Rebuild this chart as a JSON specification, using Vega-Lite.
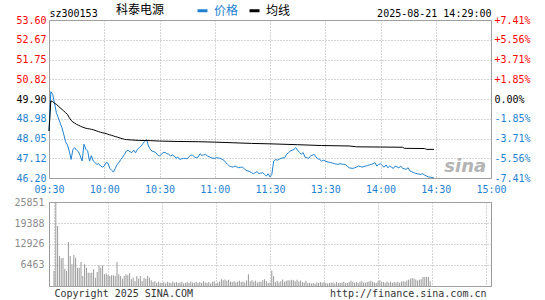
{
  "$schema": "https://vega.github.io/schema/vega-lite/v6.json",
  "background": "white",
  "padding": {"left": 13, "top": 4, "right": 0, "bottom": 0},
  "spacing": 24,
  "bounds": "flush",
  "config": {
    "view": {"stroke": "#999999", "strokeWidth": 1},
    "axis": {"labelFont": "DejaVu Sans Mono", "labelFontSize": 10, "domain": false, "ticks": false, "grid": false, "title": null, "labelOverlap": false, "labelBound": false, "gridColor": "#aaaaaa", "gridDash": [1, 2], "gridWidth": 1}
  },
  "datasets": {
    "price": [
      {"m":0,"p":48.40,"s":"价格"},{"m":1,"p":50.24,"s":"价格"},{"m":2,"p":50.12,"s":"价格"},{"m":3,"p":49.70,"s":"价格"},{"m":4,"p":49.26,"s":"价格"},{"m":5,"p":49.03,"s":"价格"},{"m":6,"p":48.79,"s":"价格"},{"m":7,"p":48.56,"s":"价格"},{"m":8,"p":48.25,"s":"价格"},{"m":9,"p":47.90,"s":"价格"},
      {"m":10,"p":47.75,"s":"价格"},{"m":11,"p":47.46,"s":"价格"},{"m":12,"p":47.07,"s":"价格"},{"m":13,"p":47.54,"s":"价格"},{"m":14,"p":47.62,"s":"价格"},{"m":15,"p":47.50,"s":"价格"},{"m":16,"p":47.43,"s":"价格"},{"m":17,"p":47.23,"s":"价格"},{"m":18,"p":47.00,"s":"价格"},{"m":19,"p":47.78,"s":"价格"},
      {"m":20,"p":47.55,"s":"价格"},{"m":21,"p":47.46,"s":"价格"},{"m":22,"p":46.99,"s":"价格"},{"m":23,"p":47.25,"s":"价格"},{"m":24,"p":47.00,"s":"价格"},{"m":25,"p":46.92,"s":"价格"},{"m":26,"p":46.84,"s":"价格"},{"m":27,"p":46.87,"s":"价格"},{"m":28,"p":46.76,"s":"价格"},{"m":29,"p":46.71,"s":"价格"},
      {"m":30,"p":46.76,"s":"价格"},{"m":31,"p":46.92,"s":"价格"},{"m":32,"p":46.90,"s":"价格"},{"m":33,"p":46.65,"s":"价格"},{"m":34,"p":46.56,"s":"价格"},{"m":35,"p":46.48,"s":"价格"},{"m":36,"p":46.65,"s":"价格"},{"m":37,"p":46.84,"s":"价格"},{"m":38,"p":46.92,"s":"价格"},{"m":39,"p":47.07,"s":"价格"},
      {"m":40,"p":47.18,"s":"价格"},{"m":41,"p":47.31,"s":"价格"},{"m":42,"p":47.46,"s":"价格"},{"m":43,"p":47.50,"s":"价格"},{"m":44,"p":47.43,"s":"价格"},{"m":45,"p":47.39,"s":"价格"},{"m":46,"p":47.50,"s":"价格"},{"m":47,"p":47.38,"s":"价格"},{"m":48,"p":47.54,"s":"价格"},{"m":49,"p":47.62,"s":"价格"},
      {"m":50,"p":47.70,"s":"价格"},{"m":51,"p":47.81,"s":"价格"},{"m":52,"p":47.92,"s":"价格"},{"m":53,"p":48.01,"s":"价格"},{"m":54,"p":47.70,"s":"价格"},{"m":55,"p":47.54,"s":"价格"},{"m":56,"p":47.46,"s":"价格"},{"m":57,"p":47.43,"s":"价格"},{"m":58,"p":47.39,"s":"价格"},{"m":59,"p":47.28,"s":"价格"},
      {"m":60,"p":47.23,"s":"价格"},{"m":61,"p":47.31,"s":"价格"},{"m":62,"p":47.39,"s":"价格"},{"m":63,"p":47.40,"s":"价格"},{"m":64,"p":47.34,"s":"价格"},{"m":65,"p":47.31,"s":"价格"},{"m":66,"p":47.23,"s":"价格"},{"m":67,"p":47.28,"s":"价格"},{"m":68,"p":47.23,"s":"价格"},{"m":69,"p":47.12,"s":"价格"},
      {"m":70,"p":47.18,"s":"价格"},{"m":71,"p":47.07,"s":"价格"},{"m":72,"p":47.10,"s":"价格"},{"m":73,"p":47.12,"s":"价格"},{"m":74,"p":47.12,"s":"价格"},{"m":75,"p":47.10,"s":"价格"},{"m":76,"p":47.20,"s":"价格"},{"m":77,"p":47.27,"s":"价格"},{"m":78,"p":47.27,"s":"价格"},{"m":79,"p":47.18,"s":"价格"},
      {"m":80,"p":47.15,"s":"价格"},{"m":81,"p":47.18,"s":"价格"},{"m":82,"p":47.34,"s":"价格"},{"m":83,"p":47.26,"s":"价格"},{"m":84,"p":47.28,"s":"价格"},{"m":85,"p":47.31,"s":"价格"},{"m":86,"p":47.23,"s":"价格"},{"m":87,"p":47.20,"s":"价格"},{"m":88,"p":47.15,"s":"价格"},{"m":89,"p":47.13,"s":"价格"},
      {"m":90,"p":47.12,"s":"价格"},{"m":91,"p":47.15,"s":"价格"},{"m":92,"p":47.14,"s":"价格"},{"m":93,"p":47.12,"s":"价格"},{"m":94,"p":47.08,"s":"价格"},{"m":95,"p":47.03,"s":"价格"},{"m":96,"p":46.92,"s":"价格"},{"m":97,"p":46.84,"s":"价格"},{"m":98,"p":46.76,"s":"价格"},{"m":99,"p":46.73,"s":"价格"},
      {"m":100,"p":46.71,"s":"价格"},{"m":101,"p":46.76,"s":"价格"},{"m":102,"p":46.72,"s":"价格"},{"m":103,"p":46.68,"s":"价格"},{"m":104,"p":46.70,"s":"价格"},{"m":105,"p":46.71,"s":"价格"},{"m":106,"p":46.64,"s":"价格"},{"m":107,"p":46.56,"s":"价格"},{"m":108,"p":46.53,"s":"价格"},{"m":109,"p":46.50,"s":"价格"},
      {"m":110,"p":46.45,"s":"价格"},{"m":111,"p":46.40,"s":"价格"},{"m":112,"p":46.45,"s":"价格"},{"m":113,"p":46.50,"s":"价格"},{"m":114,"p":46.40,"s":"价格"},{"m":115,"p":46.43,"s":"价格"},{"m":116,"p":46.45,"s":"价格"},{"m":117,"p":46.37,"s":"价格"},{"m":118,"p":46.29,"s":"价格"},{"m":119,"p":46.40,"s":"价格"},
      {"m":120,"p":46.25,"s":"价格"},{"m":121,"p":46.37,"s":"价格"},{"m":122,"p":46.99,"s":"价格"},{"m":123,"p":47.07,"s":"价格"},{"m":124,"p":47.03,"s":"价格"},{"m":125,"p":47.08,"s":"价格"},{"m":126,"p":47.12,"s":"价格"},{"m":127,"p":47.14,"s":"价格"},{"m":128,"p":47.15,"s":"价格"},{"m":129,"p":47.31,"s":"价格"},
      {"m":130,"p":47.38,"s":"价格"},{"m":131,"p":47.46,"s":"价格"},{"m":132,"p":47.50,"s":"价格"},{"m":133,"p":47.54,"s":"价格"},{"m":134,"p":47.62,"s":"价格"},{"m":135,"p":47.50,"s":"价格"},{"m":136,"p":47.40,"s":"价格"},{"m":137,"p":47.31,"s":"价格"},{"m":138,"p":47.39,"s":"价格"},{"m":139,"p":47.18,"s":"价格"},
      {"m":140,"p":47.15,"s":"价格"},{"m":141,"p":47.12,"s":"价格"},{"m":142,"p":47.23,"s":"价格"},{"m":143,"p":47.27,"s":"价格"},{"m":144,"p":47.31,"s":"价格"},{"m":145,"p":47.18,"s":"价格"},{"m":146,"p":47.10,"s":"价格"},{"m":147,"p":47.07,"s":"价格"},{"m":148,"p":46.99,"s":"价格"},{"m":149,"p":47.03,"s":"价格"},
      {"m":150,"p":47.00,"s":"价格"},{"m":151,"p":46.96,"s":"价格"},{"m":152,"p":46.94,"s":"价格"},{"m":153,"p":46.92,"s":"价格"},{"m":154,"p":46.90,"s":"价格"},{"m":155,"p":46.87,"s":"价格"},{"m":156,"p":46.85,"s":"价格"},{"m":157,"p":46.84,"s":"价格"},{"m":158,"p":46.87,"s":"价格"},{"m":159,"p":46.85,"s":"价格"},
      {"m":160,"p":46.84,"s":"价格"},{"m":161,"p":46.82,"s":"价格"},{"m":162,"p":46.75,"s":"价格"},{"m":163,"p":46.68,"s":"价格"},{"m":164,"p":46.66,"s":"价格"},{"m":165,"p":46.65,"s":"价格"},{"m":166,"p":46.68,"s":"价格"},{"m":167,"p":46.71,"s":"价格"},{"m":168,"p":46.76,"s":"价格"},{"m":169,"p":46.74,"s":"价格"},
      {"m":170,"p":46.71,"s":"价格"},{"m":171,"p":46.74,"s":"价格"},{"m":172,"p":46.76,"s":"价格"},{"m":173,"p":46.79,"s":"价格"},{"m":174,"p":46.81,"s":"价格"},{"m":175,"p":46.84,"s":"价格"},{"m":176,"p":46.87,"s":"价格"},{"m":177,"p":46.92,"s":"价格"},{"m":178,"p":46.76,"s":"价格"},{"m":179,"p":46.84,"s":"价格"},
      {"m":180,"p":46.87,"s":"价格"},{"m":181,"p":46.78,"s":"价格"},{"m":182,"p":46.71,"s":"价格"},{"m":183,"p":46.81,"s":"价格"},{"m":184,"p":46.68,"s":"价格"},{"m":185,"p":46.76,"s":"价格"},{"m":186,"p":46.70,"s":"价格"},{"m":187,"p":46.65,"s":"价格"},{"m":188,"p":46.76,"s":"价格"},{"m":189,"p":46.72,"s":"价格"},
      {"m":190,"p":46.68,"s":"价格"},{"m":191,"p":46.76,"s":"价格"},{"m":192,"p":46.65,"s":"价格"},{"m":193,"p":46.63,"s":"价格"},{"m":194,"p":46.61,"s":"价格"},{"m":195,"p":46.68,"s":"价格"},{"m":196,"p":46.53,"s":"价格"},{"m":197,"p":46.50,"s":"价格"},{"m":198,"p":46.45,"s":"价格"},{"m":199,"p":46.42,"s":"价格"},
      {"m":200,"p":46.40,"s":"价格"},{"m":201,"p":46.38,"s":"价格"},{"m":202,"p":46.37,"s":"价格"},{"m":203,"p":46.40,"s":"价格"},{"m":204,"p":46.33,"s":"价格"},{"m":205,"p":46.29,"s":"价格"},{"m":206,"p":46.25,"s":"价格"},{"m":207,"p":46.24,"s":"价格"},{"m":208,"p":46.22,"s":"价格"},{"m":209,"p":46.21,"s":"价格"},
      {"m":0,"p":48.40,"s":"均线"},{"m":1,"p":49.81,"s":"均线"},{"m":2,"p":49.78,"s":"均线"},{"m":3,"p":49.70,"s":"均线"},{"m":4,"p":49.65,"s":"均线"},{"m":5,"p":49.57,"s":"均线"},{"m":6,"p":49.49,"s":"均线"},{"m":7,"p":49.42,"s":"均线"},{"m":8,"p":49.34,"s":"均线"},{"m":9,"p":49.26,"s":"均线"},
      {"m":10,"p":49.18,"s":"均线"},{"m":11,"p":49.03,"s":"均线"},{"m":12,"p":48.90,"s":"均线"},{"m":13,"p":48.82,"s":"均线"},{"m":14,"p":48.77,"s":"均线"},{"m":15,"p":48.71,"s":"均线"},{"m":16,"p":48.67,"s":"均线"},{"m":17,"p":48.63,"s":"均线"},{"m":18,"p":48.59,"s":"均线"},{"m":19,"p":48.56,"s":"均线"},
      {"m":20,"p":48.53,"s":"均线"},{"m":21,"p":48.51,"s":"均线"},{"m":22,"p":48.50,"s":"均线"},{"m":23,"p":48.48,"s":"均线"},{"m":24,"p":48.46,"s":"均线"},{"m":25,"p":48.43,"s":"均线"},{"m":26,"p":48.40,"s":"均线"},{"m":27,"p":48.37,"s":"均线"},{"m":28,"p":48.34,"s":"均线"},{"m":29,"p":48.32,"s":"均线"},
      {"m":30,"p":48.30,"s":"均线"},{"m":31,"p":48.28,"s":"均线"},{"m":32,"p":48.25,"s":"均线"},{"m":33,"p":48.22,"s":"均线"},{"m":34,"p":48.20,"s":"均线"},{"m":35,"p":48.17,"s":"均线"},{"m":36,"p":48.14,"s":"均线"},{"m":37,"p":48.12,"s":"均线"},{"m":38,"p":48.09,"s":"均线"},{"m":39,"p":48.06,"s":"均线"},
      {"m":40,"p":48.04,"s":"均线"},{"m":41,"p":48.01,"s":"均线"},{"m":42,"p":48.00,"s":"均线"},{"m":45,"p":47.98,"s":"均线"},{"m":49,"p":47.96,"s":"均线"},{"m":55,"p":47.95,"s":"均线"},{"m":60,"p":47.93,"s":"均线"},{"m":70,"p":47.91,"s":"均线"},{"m":81,"p":47.90,"s":"均线"},{"m":90,"p":47.88,"s":"均线"},
      {"m":100,"p":47.85,"s":"均线"},{"m":110,"p":47.82,"s":"均线"},{"m":120,"p":47.80,"s":"均线"},{"m":135,"p":47.76,"s":"均线"},{"m":148,"p":47.72,"s":"均线"},{"m":163,"p":47.70,"s":"均线"},{"m":167,"p":47.66,"s":"均线"},{"m":180,"p":47.65,"s":"均线"},{"m":192,"p":47.64,"s":"均线"},{"m":193,"p":47.59,"s":"均线"},
      {"m":204,"p":47.58,"s":"均线"},{"m":205,"p":47.54,"s":"均线"},{"m":209,"p":47.54,"s":"均线"}
    ],
    "vol": [
      {"m":0,"v":4616},{"m":1,"v":25851},{"m":2,"v":18465},{"m":3,"v":9232},{"m":4,"v":8513},{"m":5,"v":8718},{"m":6,"v":5335},{"m":7,"v":4616},{"m":8,"v":13541},{"m":9,"v":9232},
      {"m":10,"v":6668},{"m":11,"v":9540},{"m":12,"v":8718},{"m":13,"v":5642},{"m":14,"v":5642},{"m":15,"v":7386},{"m":16,"v":3078},{"m":17,"v":6668},{"m":18,"v":5642},{"m":19,"v":4103},
      {"m":20,"v":4103},{"m":21,"v":4103},{"m":22,"v":5129},{"m":23,"v":2565},{"m":24,"v":4308},{"m":25,"v":6360},{"m":26,"v":5642},{"m":27,"v":6360},{"m":28,"v":3590},{"m":29,"v":3898},
      {"m":30,"v":3385},{"m":31,"v":3078},{"m":32,"v":3283},{"m":33,"v":3283},{"m":34,"v":3078},{"m":35,"v":7386},{"m":36,"v":3590},{"m":37,"v":3078},{"m":38,"v":2257},{"m":39,"v":3078},
      {"m":40,"v":3590},{"m":41,"v":3283},{"m":42,"v":3898},{"m":43,"v":2052},{"m":44,"v":2565},{"m":45,"v":1539},{"m":46,"v":3078},{"m":47,"v":2257},{"m":48,"v":3078},{"m":49,"v":1539},
      {"m":50,"v":2565},{"m":51,"v":2257},{"m":52,"v":3078},{"m":53,"v":2565},{"m":54,"v":1800},{"m":55,"v":1200},{"m":56,"v":1500},{"m":57,"v":1000},{"m":58,"v":1300},{"m":59,"v":1000},
      {"m":60,"v":1000},{"m":61,"v":1200},{"m":62,"v":800},{"m":63,"v":1300},{"m":64,"v":1100},{"m":65,"v":900},{"m":66,"v":1400},{"m":67,"v":1000},{"m":68,"v":1200},{"m":69,"v":900},
      {"m":70,"v":1100},{"m":71,"v":1300},{"m":72,"v":800},{"m":73,"v":1000},{"m":74,"v":1200},{"m":75,"v":900},{"m":76,"v":1400},{"m":77,"v":1100},{"m":78,"v":1000},{"m":79,"v":1300},
      {"m":80,"v":900},{"m":81,"v":1200},{"m":82,"v":1000},{"m":83,"v":1500},{"m":84,"v":1100},{"m":85,"v":900},{"m":86,"v":1200},{"m":87,"v":800},{"m":88,"v":1300},{"m":89,"v":1500},
      {"m":90,"v":800},{"m":91,"v":1100},{"m":92,"v":1400},{"m":93,"v":2100},{"m":94,"v":1800},{"m":95,"v":2000},{"m":96,"v":1600},{"m":97,"v":1900},{"m":98,"v":1400},{"m":99,"v":1200},
      {"m":100,"v":1500},{"m":101,"v":1100},{"m":102,"v":1300},{"m":103,"v":1600},{"m":104,"v":1200},{"m":105,"v":1400},{"m":106,"v":1100},{"m":107,"v":1700},{"m":108,"v":3600},{"m":109,"v":1500},
      {"m":110,"v":1800},{"m":111,"v":1300},{"m":112,"v":1600},{"m":113,"v":1100},{"m":114,"v":1400},{"m":115,"v":1200},{"m":116,"v":1800},{"m":117,"v":2100},{"m":118,"v":1500},{"m":119,"v":900},
      {"m":120,"v":1000},{"m":121,"v":4800},{"m":122,"v":3000},{"m":123,"v":1200},{"m":124,"v":1600},{"m":125,"v":1100},{"m":126,"v":1500},{"m":127,"v":2000},{"m":128,"v":1300},{"m":129,"v":1600},
      {"m":130,"v":1800},{"m":131,"v":1700},{"m":132,"v":1900},{"m":133,"v":1800},{"m":134,"v":1500},{"m":135,"v":1900},{"m":136,"v":1400},{"m":137,"v":1700},{"m":138,"v":1200},{"m":139,"v":1100},
      {"m":140,"v":1600},{"m":141,"v":900},{"m":142,"v":1000},{"m":143,"v":800},{"m":144,"v":900},{"m":145,"v":700},{"m":146,"v":1100},{"m":147,"v":900},{"m":148,"v":1200},{"m":149,"v":1000},
      {"m":150,"v":1200},{"m":151,"v":1000},{"m":152,"v":800},{"m":153,"v":900},{"m":154,"v":1100},{"m":155,"v":1000},{"m":156,"v":800},{"m":157,"v":1200},{"m":158,"v":900},{"m":159,"v":1000},
      {"m":160,"v":1100},{"m":161,"v":1300},{"m":162,"v":900},{"m":163,"v":1000},{"m":164,"v":1200},{"m":165,"v":1600},{"m":166,"v":1300},{"m":167,"v":1000},{"m":168,"v":1200},{"m":169,"v":900},
      {"m":170,"v":1300},{"m":171,"v":1500},{"m":172,"v":1100},{"m":173,"v":1000},{"m":174,"v":1200},{"m":175,"v":1400},{"m":176,"v":1600},{"m":177,"v":1300},{"m":178,"v":1100},{"m":179,"v":900},
      {"m":180,"v":1400},{"m":181,"v":1800},{"m":182,"v":1300},{"m":183,"v":1200},{"m":184,"v":1000},{"m":185,"v":1400},{"m":186,"v":1100},{"m":187,"v":1300},{"m":188,"v":1000},{"m":189,"v":1200},
      {"m":190,"v":1100},{"m":191,"v":1300},{"m":192,"v":1000},{"m":193,"v":1400},{"m":194,"v":1500},{"m":195,"v":1300},{"m":196,"v":1700},{"m":197,"v":1900},{"m":198,"v":2200},{"m":199,"v":2500},
      {"m":200,"v":2300},{"m":201,"v":2000},{"m":202,"v":1700},{"m":203,"v":1900},{"m":204,"v":2100},{"m":205,"v":2800},{"m":206,"v":2800},{"m":207,"v":2800},{"m":208,"v":2800},{"m":209,"v":1500}
    ]
  },
  "vconcat": [
    {
      "width": 442,
      "height": 158,
      "layer": [
        {
          "mark": {"type": "rule", "stroke": "#000000", "strokeDash": [2, 2], "strokeWidth": 1},
          "encoding": {
            "y": {"datum": 49.9, "type": "quantitative", "scale": {"domain": [46.2, 53.6], "nice": false, "zero": false},
              "axis": {"orient": "right", "values": [46.2, 47.12, 48.05, 48.98, 49.9, 50.82, 51.75, 52.67, 53.6], "labelPadding": 3,
                "labelExpr": "['-7.41%','-5.56%','-3.71%','-1.85%','0.00%','+1.85%','+3.71%','+5.56%','+7.41%'][round((datum.value-46.2)/0.925)]",
                "labelColor": {"expr": "datum.value > 49.95 ? '#ff0000' : (datum.value < 49.85 ? '#1e82d2' : '#000000')"}}},
            "x": {"datum": 0, "type": "quantitative", "scale": {"domain": [0, 240], "nice": false, "zero": false},
              "axis": {"orient": "top", "values": [0, 240], "labelFlush": false, "labelBaseline": "alphabetic", "labelPadding": 4, "labelColor": "#000000",
                "labelAlign": {"condition": {"test": "datum.value == 0", "value": "left"}, "value": "right"},
                "labelExpr": "datum.value == 0 ? 'sz300153' : '2025-08-21 14:29:00'"}},
            "x2": {"datum": 240}
          }
        },
        {
          "data": {"values": [{"label": "sina", "m": 226, "p": 46.72}]},
          "mark": {"type": "text", "font": "DejaVu Sans", "fontSize": 18, "fontWeight": "bold", "fontStyle": "italic", "fill": "#b4b4b4", "align": "center", "baseline": "middle"},
          "encoding": {
            "x": {"field": "m", "type": "quantitative", "axis": null},
            "y": {"field": "p", "type": "quantitative", "axis": null},
            "text": {"field": "label"}
          }
        },
        {
          "data": {"name": "price"},
          "mark": {"type": "line", "strokeWidth": 1},
          "encoding": {
            "x": {"field": "m", "type": "quantitative",
              "axis": {"orient": "bottom", "values": [0, 30, 60, 90, 120, 150, 180, 210, 240], "labelFlush": false, "grid": true, "labelPadding": 6, "labelColor": "#1e82d2",
                "labelExpr": "['09:30','10:00','10:30','11:00','11:30','13:30','14:00','14:30','15:00'][round(datum.value/30)]"}},
            "y": {"field": "p", "type": "quantitative",
              "axis": {"orient": "left", "values": [46.2, 47.12, 48.05, 48.98, 49.9, 50.82, 51.75, 52.67, 53.6], "format": ".2f", "grid": true, "labelPadding": 3,
                "labelColor": {"expr": "datum.value > 49.95 ? '#ff0000' : (datum.value < 49.85 ? '#1e82d2' : '#000000')"}}},
            "color": {"field": "s", "type": "nominal",
              "scale": {"domain": ["价格", "均线"], "range": ["#1e82d2", "#000000"]},
              "legend": {"orient": "none", "legendX": 67, "legendY": -16, "direction": "horizontal", "title": "科泰电源", "titleOrient": "left",
                "titleFont": "Noto Sans CJK SC", "titleFontSize": 12, "titleFontWeight": "normal", "titleColor": "#000000", "titlePadding": 31,
                "labelFont": "Noto Sans CJK SC", "labelFontSize": 12, "labelOffset": 5, "columnPadding": 4,
                "labelColor": {"expr": "datum.value == '价格' ? '#1e82d2' : '#000000'"},
                "symbolType": "stroke", "symbolSize": 100, "symbolStrokeWidth": 3}}
          }
        }
      ]
    },
    {
      "width": 442,
      "height": 84,
      "data": {"name": "vol"},
      "mark": {"type": "bar", "size": 1, "color": "#999999"},
      "encoding": {
        "x": {"field": "m", "type": "quantitative", "scale": {"domain": [0, 240], "nice": false, "zero": false},
          "axis": {"orient": "bottom", "values": [0, 30, 60, 90, 120, 150, 180, 210, 240], "grid": true, "labelFlush": false, "labelBaseline": "alphabetic", "labelPadding": 10, "labelColor": "#333333",
            "labelAlign": {"condition": {"test": "datum.value == 0", "value": "left"}, "value": "right"},
            "labelExpr": "datum.value == 0 ? 'Copyright 2025 SINA.COM' : (datum.value == 240 ? 'http://finance.sina.com.cn' : '')"}},
        "y": {"field": "v", "type": "quantitative", "scale": {"domain": [0, 25851], "nice": false},
          "axis": {"orient": "left", "values": [0, 6463, 12926, 19388, 25851], "grid": true, "labelPadding": 5, "labelColor": "#8c8c8c",
            "labelExpr": "datum.value == 0 ? '' : format(datum.value, 'd')"}}
      }
    }
  ]
}
